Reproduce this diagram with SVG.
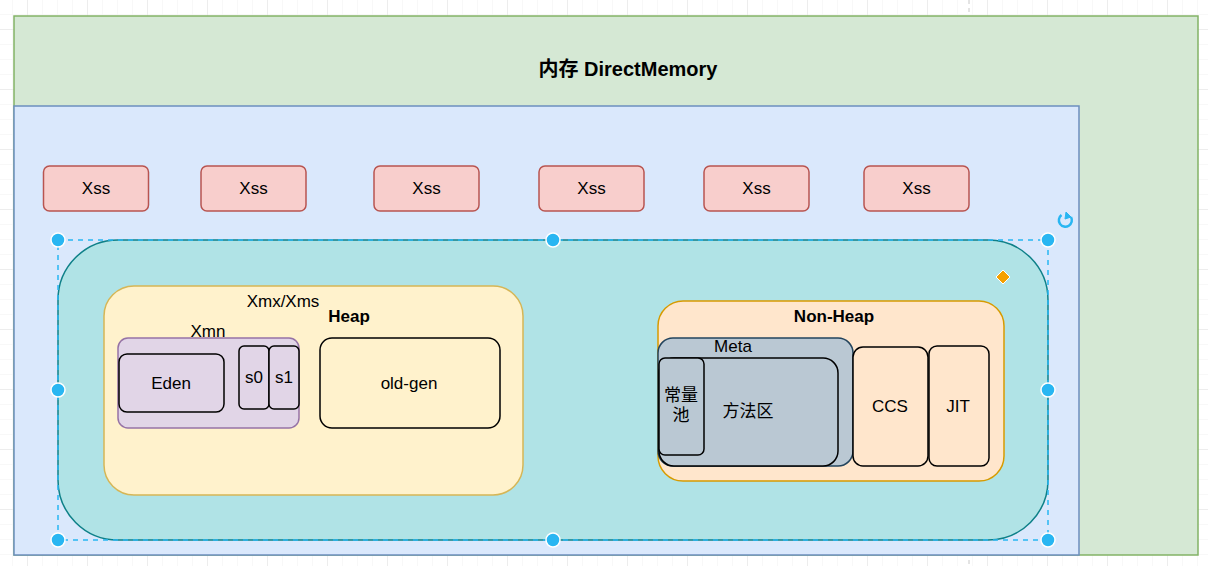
<svg xmlns="http://www.w3.org/2000/svg" width="1208" height="566" viewBox="0 0 1208 566">
<style>
  text { font-family: "Liberation Sans", Arial, "Noto Sans CJK SC", sans-serif; font-size: 17px; fill: #000; text-anchor: middle; dominant-baseline: central; }
  .b { font-weight: bold; }
  .t { font-size: 20px; font-weight: bold; }
  .xss { fill: #f8cecc; stroke: #b85450; stroke-width: 1.5; }
  .blk { stroke: #000; stroke-width: 1.5; }
  .h { fill: #29b6f2; stroke: #fff; stroke-width: 1.5; }
</style>
<defs>
  <pattern id="minor" x="12" y="14" width="15" height="15" patternUnits="userSpaceOnUse">
    <path d="M0 0V15M0 0H15" stroke="#f2f2f2" stroke-width="1" fill="none"/>
  </pattern>
  <pattern id="major" x="27" y="29" width="60" height="60" patternUnits="userSpaceOnUse">
    <path d="M0 0V60M0 0H60" stroke="#e2e2e2" stroke-width="1" fill="none"/>
  </pattern>
</defs>
<rect width="1208" height="566" fill="#fff"/>
<rect width="1208" height="566" fill="url(#minor)"/>
<rect width="1208" height="566" fill="url(#major)"/>
<line x1="969" y1="0" x2="969" y2="566" stroke="#c8c8c8" stroke-dasharray="4 4"/>

<g id="direct-memory">
  <rect x="14" y="16" width="1184" height="539" fill="#d5e8d4" stroke="#82b366" stroke-width="1.5"/>
  <text class="t" x="628" y="69">内存 DirectMemory</text>
</g>
<g id="jvm">
  <rect x="14" y="106" width="1065" height="449" fill="#dae8fc" stroke="#6c8ebf" stroke-width="1.5"/>
</g>
<g id="xss1"><rect class="xss" x="43.5" y="166" width="105" height="45" rx="6"/><text x="96" y="188">Xss</text></g>
<g id="xss2"><rect class="xss" x="201" y="166" width="105" height="45" rx="6"/><text x="253.5" y="188">Xss</text></g>
<g id="xss3"><rect class="xss" x="374" y="166" width="105" height="45" rx="6"/><text x="426.5" y="188">Xss</text></g>
<g id="xss4"><rect class="xss" x="539" y="166" width="105" height="45" rx="6"/><text x="591.5" y="188">Xss</text></g>
<g id="xss5"><rect class="xss" x="704" y="166" width="105" height="45" rx="6"/><text x="756.5" y="188">Xss</text></g>
<g id="xss6"><rect class="xss" x="864" y="166" width="105" height="45" rx="6"/><text x="916.5" y="188">Xss</text></g>

<g id="jvm-memory">
  <rect x="58" y="240" width="990" height="300" rx="60" fill="#b0e3e6" stroke="#0e8088" stroke-width="1.5"/>
</g>

<g id="heap">
  <rect x="104" y="286" width="419" height="209" rx="30" fill="#fff2cc" stroke="#d6b656" stroke-width="1.5"/>
  <text x="283" y="301">Xmx/Xms</text>
  <text class="b" x="349" y="316">Heap</text>
</g>
<g id="xmn">
  <rect x="118" y="338" width="181" height="90" rx="10" fill="#e1d5e7" stroke="#9673a6" stroke-width="1.5"/>
  <text x="208" y="331">Xmn</text>
</g>
<g id="eden"><rect class="blk" x="119" y="354" width="105" height="58" rx="8" fill="#e1d5e7"/><text x="171" y="383">Eden</text></g>
<g id="s0"><rect class="blk" x="239" y="346" width="30" height="63" rx="5" fill="#e1d5e7"/><text x="254" y="377">s0</text></g>
<g id="s1"><rect class="blk" x="269" y="346" width="30" height="63" rx="5" fill="#e1d5e7"/><text x="284" y="377">s1</text></g>
<g id="old-gen"><rect class="blk" x="320" y="338" width="180" height="90" rx="12" fill="#fff2cc"/><text x="409" y="383">old-gen</text></g>

<g id="non-heap">
  <rect x="658" y="301" width="346" height="180" rx="25" fill="#ffe6cc" stroke="#d79b00" stroke-width="1.5"/>
  <text class="b" x="834" y="316">Non-Heap</text>
</g>
<g id="meta">
  <rect x="658" y="338" width="195" height="128" rx="15" fill="#bac8d3" stroke="#23445d" stroke-width="1.5"/>
  <text x="733" y="346">Meta</text>
</g>
<g id="method-area"><rect class="blk" x="659" y="358" width="179" height="108" rx="15" fill="#bac8d3"/><text x="748" y="411">方法区</text></g>
<g id="constant-pool"><rect class="blk" x="659" y="358" width="45" height="97" rx="6" fill="#bac8d3"/><text x="681" y="395">常量</text><text x="681" y="415">池</text></g>
<g id="ccs"><rect class="blk" x="853" y="347" width="75" height="119" rx="10" fill="#ffe6cc"/><text x="890" y="406">CCS</text></g>
<g id="jit"><rect class="blk" x="929" y="346" width="60" height="120" rx="8" fill="#ffe6cc"/><text x="958" y="406">JIT</text></g>

<g id="connectors"></g>

<g id="selection">
  <rect x="58" y="240" width="990" height="300" fill="none" stroke="#29b6f2" stroke-width="1.5" stroke-dasharray="5 5"/>
  <circle class="h" cx="58" cy="240" r="7"/>
  <circle class="h" cx="553" cy="240" r="7"/>
  <circle class="h" cx="1048" cy="240" r="7"/>
  <circle class="h" cx="58" cy="390" r="7"/>
  <circle class="h" cx="1048" cy="390" r="7"/>
  <circle class="h" cx="58" cy="540" r="7"/>
  <circle class="h" cx="553" cy="540" r="7"/>
  <circle class="h" cx="1048" cy="540" r="7"/>
  <path d="M1003 270 L1010 277 L1003 284 L996 277 Z" fill="#f5a000" stroke="#fff" stroke-width="1"/>
  <path d="M1061.5 215 A6.5 6.5 0 1 0 1071 217" fill="none" stroke="#29b6f2" stroke-width="2.5"/>
  <path d="M1066 212 L1071 217 L1065 219 Z" fill="#29b6f2" stroke="#29b6f2" stroke-width="1"/>
</g>
</svg>
